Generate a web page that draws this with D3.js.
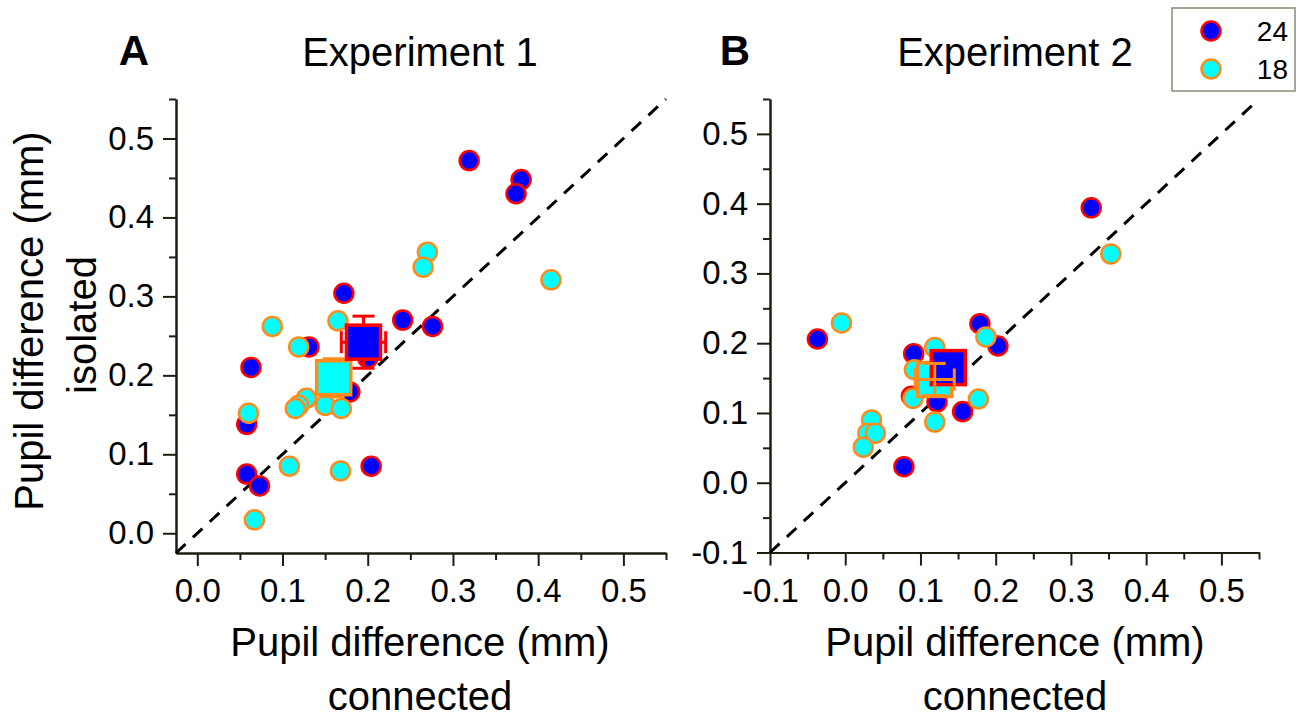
<!DOCTYPE html>
<html>
<head>
<meta charset="utf-8">
<script src="https://cdn.jsdelivr.net/npm/d3@7"></script>
<style>
  body { margin: 0; background: #fff; }
  text { font-family: "Liberation Sans", Arial, sans-serif; fill: #000; }
</style>
</head>
<body>
<div id="svgcontainer"></div>
<script>
// ---- data ----
var groups = ["24", "18"];

// Experiment 1: [connected, isolated]
var exp1_24 = [[0.319,0.472],[0.380,0.448],[0.374,0.430],[0.172,0.304],[0.241,0.270],
               [0.276,0.262],[0.131,0.236],[0.063,0.210],[0.200,0.222],[0.179,0.179],
               [0.058,0.138],[0.058,0.075],[0.073,0.060],[0.204,0.085]];
var exp1_18 = [[0.270,0.356],[0.265,0.337],[0.415,0.321],[0.165,0.269],[0.088,0.262],
               [0.119,0.236],[0.060,0.152],[0.128,0.171],[0.119,0.162],[0.115,0.158],
               [0.150,0.162],[0.169,0.158],[0.108,0.085],[0.168,0.079],[0.067,0.017]];
// Experiment 2
var exp2_24 = [[0.327,0.394],[-0.037,0.206],[0.179,0.228],[0.203,0.196],[0.091,0.185],
               [0.088,0.124],[0.122,0.116],[0.156,0.102],[0.078,0.023]];
var exp2_18 = [[0.353,0.328],[-0.005,0.229],[0.187,0.209],[0.119,0.194],[0.092,0.162],
               [0.090,0.121],[0.177,0.120],[0.119,0.087],[0.035,0.090],[0.030,0.071],
               [0.040,0.071],[0.024,0.051]];

// means with errors: [x, y, xerr, yerr]
var mean1_24 = [0.195, 0.242, 0.026, 0.033];
var mean1_18 = [0.160, 0.197, 0.020, 0.024];
var mean2_24 = [0.137, 0.165, 0.022, 0.020];
var mean2_18 = [0.119, 0.148, 0.026, 0.023];

var majorA = [0.0, 0.1, 0.2, 0.3, 0.4, 0.5];
var minorA = [0.05, 0.15, 0.25, 0.35, 0.45, 0.55];
var majorB = [-0.1, 0.0, 0.1, 0.2, 0.3, 0.4, 0.5];
var minorB = [-0.05, 0.05, 0.15, 0.25, 0.35, 0.45, 0.55];

var colors = {
  "24": { fill: "#0000ff", stroke: "#ff0000" },
  "18": { fill: "#00ffff", stroke: "#ff8c1a" }
};

var width = 1303;
var height = 721;

var svg = d3.select("#svgcontainer")
  .append("svg")
  .attr("width", width)
  .attr("height", height);

// plain hyphen for negatives, like the original
var fmt = function(v) { return d3.format(".1f")(v).replace("\u2212", "-"); };

function panel(opt) {
  var x = d3.scaleLinear().domain(opt.domain).range([opt.left, opt.right]);
  var y = d3.scaleLinear().domain(opt.domain).range([opt.bottom, opt.top]);
  var g = svg.append("g");

  // minor ticks
  g.append("g")
    .attr("transform", "translate(0," + opt.bottom + ")")
    .call(d3.axisBottom(x).tickValues(opt.minor).tickSize(7).tickSizeOuter(0).tickFormat(""));
  g.append("g")
    .attr("transform", "translate(" + opt.left + ",0)")
    .call(d3.axisLeft(y).tickValues(opt.minor).tickSize(7).tickSizeOuter(0).tickFormat(""));

  // major ticks
  g.append("g")
    .attr("transform", "translate(0," + opt.bottom + ")")
    .call(d3.axisBottom(x).tickValues(opt.major).tickSize(13).tickSizeOuter(0).tickPadding(13).tickFormat(fmt));
  g.append("g")
    .attr("transform", "translate(" + opt.left + ",0)")
    .call(d3.axisLeft(y).tickValues(opt.major).tickSize(13).tickSizeOuter(0).tickPadding(9).tickFormat(fmt));

  g.selectAll(".domain, .tick line").attr("stroke", "#1e1e10").attr("stroke-width", 2);
  g.selectAll(".tick text").attr("font-size", 33).attr("font-family", "Liberation Sans, Arial, sans-serif").attr("fill", "#000");

  // identity line
  g.append("line")
    .attr("x1", x(opt.domain[0])).attr("y1", y(opt.domain[0]))
    .attr("x2", x(opt.domain[1])).attr("y2", y(opt.domain[1]))
    .attr("stroke", "#000")
    .attr("stroke-width", 3)
    .attr("stroke-dasharray", "13,10");

  function dots(data, grp) {
    g.append("g").selectAll("circle")
      .data(data)
      .enter()
      .append("circle")
      .attr("cx", function(d) { return x(d[0]); })
      .attr("cy", function(d) { return y(d[1]); })
      .attr("r", 9.5)
      .attr("fill", colors[grp].fill)
      .attr("stroke", colors[grp].stroke)
      .attr("stroke-width", 2.5);
  }

  function errbars(m, grp) {
    var c = colors[grp].stroke;
    var eg = g.append("g").attr("stroke", c).attr("stroke-width", 3);
    var cx = x(m[0]), cy = y(m[1]);
    var cap = opt.cap;
    eg.append("line").attr("x1", cx).attr("x2", cx).attr("y1", y(m[1] + m[3])).attr("y2", y(m[1] - m[3]));
    eg.append("line").attr("y1", cy).attr("y2", cy).attr("x1", x(m[0] - m[2])).attr("x2", x(m[0] + m[2]));
    [m[1] + m[3], m[1] - m[3]].forEach(function(v) {
      eg.append("line").attr("x1", cx - cap).attr("x2", cx + cap).attr("y1", y(v)).attr("y2", y(v));
    });
    [m[0] - m[2], m[0] + m[2]].forEach(function(v) {
      eg.append("line").attr("y1", cy - cap).attr("y2", cy + cap).attr("x1", x(v)).attr("x2", x(v));
    });
  }

  function square(m, grp) {
    var s = 34;
    g.append("rect")
      .attr("x", x(m[0]) - s / 2)
      .attr("y", y(m[1]) - s / 2)
      .attr("width", s)
      .attr("height", s)
      .attr("fill", colors[grp].fill)
      .attr("stroke", colors[grp].stroke)
      .attr("stroke-width", 3.5);
  }

  dots(opt.d24, "24");
  dots(opt.d18, "18");
  opt.order.forEach(function(step) {
    if (step[0] == "err") errbars(step[1], step[2]);
    else square(step[1], step[2]);
  });

  // titles
  svg.append("text")
    .attr("x", opt.letterX).attr("y", 65)
    .attr("text-anchor", "middle")
    .attr("font-size", 42).attr("font-weight", "bold")
    .text(opt.letter);
  svg.append("text")
    .attr("x", opt.titleX).attr("y", 66)
    .attr("text-anchor", "middle")
    .attr("font-size", 40)
    .text(opt.title);

  svg.append("text")
    .attr("x", opt.titleX).attr("y", 656)
    .attr("text-anchor", "middle")
    .attr("font-size", 40)
    .text("Pupil difference (mm)");
  svg.append("text")
    .attr("x", opt.titleX).attr("y", 710)
    .attr("text-anchor", "middle")
    .attr("font-size", 40)
    .text("connected");
}

panel({
  domain: [-0.025, 0.55], left: 176, right: 666, top: 99, bottom: 553,
  major: majorA, minor: minorA, d24: exp1_24, d18: exp1_18, cap: 11,
  order: [["err", mean1_18, "18"], ["sq", mean1_18, "18"], ["err", mean1_24, "24"], ["sq", mean1_24, "24"]],
  letter: "A", letterX: 134, title: "Experiment 1", titleX: 420
});

panel({
  domain: [-0.1, 0.55], left: 770, right: 1259, top: 99, bottom: 552.5,
  major: majorB, minor: minorB, d24: exp2_24, d18: exp2_18, cap: 11,
  order: [["sq", mean2_18, "18"], ["err", mean2_24, "24"], ["sq", mean2_24, "24"], ["err", mean2_18, "18"]],
  letter: "B", letterX: 735, title: "Experiment 2", titleX: 1015
});

// y-axis title (panel A only)
svg.append("text")
  .attr("transform", "translate(43,321) rotate(-90)")
  .attr("text-anchor", "middle")
  .attr("font-size", 40)
  .text("Pupil difference (mm)");
svg.append("text")
  .attr("transform", "translate(96,325) rotate(-90)")
  .attr("text-anchor", "middle")
  .attr("font-size", 40)
  .text("isolated");

// legend
var legend = svg.append("g");
legend.append("rect")
  .attr("x", 1172).attr("y", 8)
  .attr("width", 123).attr("height", 83)
  .attr("fill", "#fff")
  .attr("stroke", "#8c8c78")
  .attr("stroke-width", 1.5);

legend.selectAll("circle")
  .data(groups)
  .enter()
  .append("circle")
  .attr("cx", 1211)
  .attr("cy", function(d, i) { return 31 + i * 38; })
  .attr("r", 9.5)
  .attr("fill", function(d) { return colors[d].fill; })
  .attr("stroke", function(d) { return colors[d].stroke; })
  .attr("stroke-width", 2.5);

legend.selectAll("text")
  .data(groups)
  .enter()
  .append("text")
  .attr("x", 1288)
  .attr("y", function(d, i) { return 41 + i * 38; })
  .attr("text-anchor", "end")
  .attr("font-size", 28)
  .text(function(d) { return d; });
</script>
</body>
</html>
